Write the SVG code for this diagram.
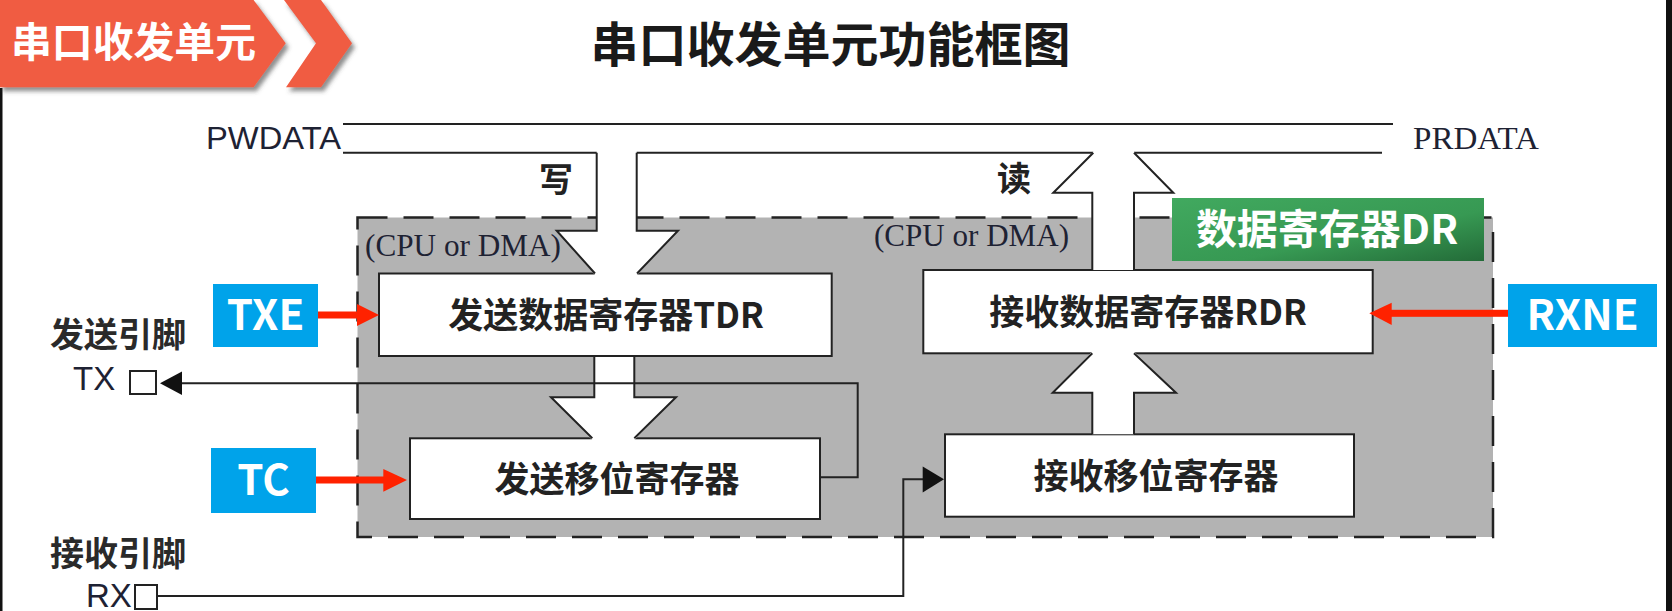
<svg xmlns="http://www.w3.org/2000/svg" width="1672" height="611" viewBox="0 0 1672 611">
<style>
.cjk{font-family:"Noto Sans CJK SC","Noto Sans",sans-serif;font-weight:bold;}
.lbl{font-family:"Noto Sans CJK SC","Noto Sans",sans-serif;font-weight:bold;fill:#222;font-size:35px;text-anchor:middle;}
.pin{font-family:"Noto Sans CJK SC",sans-serif;font-weight:bold;fill:#2a2a2a;font-size:34px;}
.box{fill:#fff;stroke:#222;stroke-width:2;}
.ln{fill:none;stroke:#222;stroke-width:2;}
.wf{fill:#fff;stroke:none;}
.flag{fill:#00a3ea;}
.flagt{font-family:"Noto Sans CJK SC","Noto Sans",sans-serif;font-weight:bold;fill:#fff;font-size:42px;text-anchor:middle;}
.red{fill:#ff2200;}
.times{font-family:"Liberation Serif",serif;fill:#1e2233;font-size:31px;}
.arial{font-family:"Liberation Sans",sans-serif;fill:#1e2233;}
</style>
<defs>
<filter id="sh" x="-10%" y="-10%" width="130%" height="140%">
<feDropShadow dx="3" dy="4" stdDeviation="2" flood-color="#444" flood-opacity="0.6"/>
</filter>
<linearGradient id="gr" x1="0" y1="0" x2="1" y2="1">
<stop offset="0" stop-color="#41a95f"/>
<stop offset="0.6" stop-color="#379953"/>
<stop offset="1" stop-color="#236b38"/>
</linearGradient>
</defs>
<rect width="1672" height="611" fill="#fff"/>
<rect x="0" y="88" width="2.5" height="523" fill="#111"/>
<rect x="1666" y="0" width="6" height="611" fill="#111"/>

<g id="banner">
<polygon points="0,0 253.6,0 285.7,43.3 253.6,87.3 0,87.3" fill="#f05c42" filter="url(#sh)"/>
<polygon points="284,0 321,0 352,43.3 321,87.3 286,87.3 316,43.3" fill="#f05c42" filter="url(#sh)"/>
<text class="cjk" x="11" y="57" font-size="41" fill="#fff" textLength="245" lengthAdjust="spacingAndGlyphs">串口收发单元</text>
</g>
<g id="title">
<text class="cjk" x="830.5" y="62" font-size="48" fill="#1a1a1a" text-anchor="middle">串口收发单元功能框图</text>
</g>

<g id="bus">
<text class="arial" x="206" y="149" font-size="31" textLength="135" lengthAdjust="spacingAndGlyphs">PWDATA</text>
<text class="times" x="1413" y="149" font-size="32" textLength="126" lengthAdjust="spacingAndGlyphs">PRDATA</text>
<line class="ln" x1="343" y1="124" x2="1393" y2="124"/>
<line class="ln" x1="343" y1="152.7" x2="596.7" y2="152.7"/>
<line class="ln" x1="636.7" y1="152.7" x2="1093.3" y2="152.7"/>
<line class="ln" x1="1134" y1="152.7" x2="1382" y2="152.7"/>
</g>

<g id="unit">
<rect x="357.5" y="217.5" width="1135.5" height="319.5" fill="#b3b3b3"/>
<rect x="357.5" y="217.5" width="1135.5" height="319.5" fill="none" stroke="#222" stroke-width="2.5" stroke-dasharray="30 16"/>
<text class="times" x="365" y="256" textLength="196" lengthAdjust="spacingAndGlyphs">(CPU or DMA)</text>
<text class="times" x="874" y="246" textLength="195" lengthAdjust="spacingAndGlyphs">(CPU or DMA)</text>
</g>

<g id="tdr">
<rect class="box" x="379" y="273.5" width="452.7" height="82.5"/>
<text class="lbl" x="606" y="328">发送数据寄存器TDR</text>
</g>
<g id="rdr">
<rect class="box" x="923.3" y="270" width="449.4" height="83.3"/>
<text class="lbl" x="1148" y="325">接收数据寄存器RDR</text>
</g>
<g id="tsr">
<rect class="box" x="410" y="438.3" width="410" height="80.7"/>
<text class="lbl" x="617" y="492">发送移位寄存器</text>
</g>
<g id="rsr">
<rect class="box" x="945" y="434.3" width="409" height="82.4"/>
<text class="lbl" x="1156" y="489">接收移位寄存器</text>
</g>

<g id="connectors">
<!-- write arrow -->
<polygon class="wf" points="596.7,153.7 596.7,230.7 556.7,230.7 595,275 637,275 678,230.7 636.7,230.7 636.7,153.7"/>
<polyline class="ln" points="596.7,152.7 596.7,230.7 556.7,230.7 595,273.5"/>
<polyline class="ln" points="636.7,152.7 636.7,230.7 678,230.7 637,273.5"/>
<!-- read arrow -->
<polygon class="wf" points="1093.3,151.7 1053.3,192.7 1092.3,192.7 1092.3,270 1134,270 1134,192.7 1173.3,192.7 1134,151.7"/>
<polyline class="ln" points="1093.3,152.7 1053.3,192.7 1092.3,192.7 1092.3,270"/>
<polyline class="ln" points="1134,152.7 1173.3,192.7 1134,192.7 1134,270"/>
<!-- TDR to shift -->
<polygon class="wf" points="594.3,357 594.3,397.3 551,397.3 592.3,440 634.3,440 676,397.3 634.3,397.3 634.3,357"/>
<polyline class="ln" points="594.3,356 594.3,397.3 551,397.3 592.3,438.3"/>
<polyline class="ln" points="634.3,356 634.3,397.3 676,397.3 634.3,438.3"/>
<!-- shift to RDR -->
<polygon class="wf" points="1092.3,351.5 1052.7,392.7 1092.3,392.7 1092.3,434.3 1134,434.3 1134,392.7 1176,392.7 1134,351.5"/>
<polyline class="ln" points="1092.3,353.3 1052.7,392.7 1092.3,392.7 1092.3,434.3"/>
<polyline class="ln" points="1134,353.3 1176,392.7 1134,392.7 1134,434.3"/>
<!-- TX output -->
<polyline class="ln" points="820,477.3 857.7,477.3 857.7,383.3 180,383.3"/>
<polygon points="160,383.3 182,371.5 182,395" fill="#111"/>
<!-- RX input -->
<polyline class="ln" points="157,596 903.3,596 903.3,479.3 925,479.3"/>
<polygon points="944,479.3 922.7,466.5 922.7,492.5" fill="#111"/>
<!-- flag arrows -->
<rect class="red" x="317" y="311.5" width="42" height="7"/>
<polygon class="red" points="379,315 357,304 357,326"/>
<rect class="red" x="315" y="476.5" width="70" height="7"/>
<polygon class="red" points="407,480 383.3,469 383.3,491.7"/>
<rect class="red" x="1390" y="309.8" width="119" height="7"/>
<polygon class="red" points="1369.3,313.3 1391.7,302.7 1391.7,325"/>
</g>

<g id="green-label">
<rect x="1172" y="198" width="312" height="63" fill="url(#gr)"/>
<text class="cjk" x="1327" y="244" font-size="41" fill="#fff" text-anchor="middle">数据寄存器DR</text>
</g>

<g id="rw-labels">
<text class="cjk" x="556" y="192" font-size="34" fill="#222" text-anchor="middle">写</text>
<text class="cjk" x="1014" y="191" font-size="34" fill="#222" text-anchor="middle">读</text>
</g>

<g id="txe">
<rect class="flag" x="213" y="284" width="105" height="63"/>
<text class="flagt" x="265.5" y="330">TXE</text>
</g>
<g id="tc">
<rect class="flag" x="211" y="448" width="105" height="65"/>
<text class="flagt" x="263.5" y="495">TC</text>
</g>
<g id="rxne">
<rect class="flag" x="1508" y="284" width="149" height="63"/>
<text class="flagt" x="1582.5" y="330">RXNE</text>
</g>

<g id="tx-pin">
<text class="pin" x="50" y="347">发送引脚</text>
<text class="arial" x="73" y="390" font-size="33">TX</text>
<rect x="130" y="371" width="26" height="23" fill="#fff" stroke="#222" stroke-width="2"/>
</g>
<g id="rx-pin">
<text class="pin" x="50" y="566">接收引脚</text>
<text class="arial" x="86" y="607" font-size="33">RX</text>
<rect x="135" y="585" width="22" height="24" fill="#fff" stroke="#222" stroke-width="2"/>
</g>
</svg>
